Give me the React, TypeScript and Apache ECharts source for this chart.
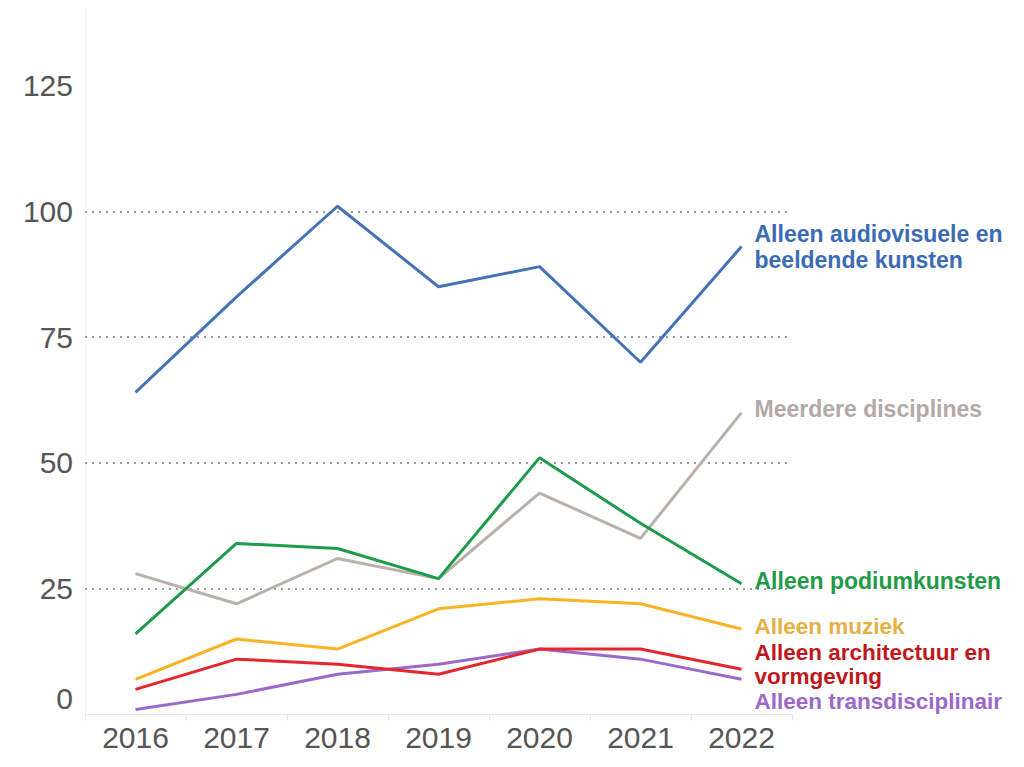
import React, { useEffect, useRef } from "react";
import * as echarts from "echarts";

const years = ["2016", "2017", "2018", "2019", "2020", "2021", "2022"];
const audiovisueel = [64, 83, 101, 85, 89, 70, 93];
const meerdere = [28, 22, 31, 27, 44, 35, 60];
const podium = [16, 34, 33, 27, 51, 38, 26];
const muziek = [7, 15, 13, 21, 23, 22, 17];
const architectuur = [5, 11, 10, 8, 13, 13, 9];
const trans = [1, 4, 8, 10, 13, 11, 7];
const gridValues = [25, 50, 75, 100];

const FONT = "'Liberation Sans', Arial, sans-serif";

function mkSeries(
  name: string,
  data: number[],
  lineColor: string,
  textColor: string,
  dy: number,
  z: number,
  lineHeight: number,
  fontSize = 23
) {
  return {
    name,
    type: "line",
    data,
    symbol: "none",
    z,
    lineStyle: { color: lineColor, width: 3 },
    itemStyle: { color: lineColor },
    emphasis: { disabled: true },
    endLabel: {
      show: true,
      formatter: name,
      color: textColor,
      fontSize,
      fontWeight: "bold",
      fontFamily: FONT,
      lineHeight,
      distance: 13,
      offset: [0, dy],
    },
  };
}

export default function App() {
  const ref = useRef<HTMLDivElement>(null);
  useEffect(() => {
    document.body.style.margin = "0";
    const chart = echarts.init(ref.current!, null, { renderer: "svg" });
    const first: any = mkSeries("Alleen transdisciplinair", trans, "#9b69c9", "#9a68c6", 22, 3, 22, 22.5);
    first.markLine = {
      silent: true,
      z: 1,
      symbol: ["none", "none"],
      label: { show: false },
      lineStyle: { type: [2, 5], color: "#9a9a9a", width: 2 },
      emphasis: { disabled: true },
      data: gridValues.map((v) => ({ yAxis: v })),
    };
    chart.setOption({
      animation: false,
      grid: { left: 85, right: 232, top: 10, bottom: 52.5 },
      xAxis: {
        type: "category",
        data: years,
        boundaryGap: true,
        axisLine: { lineStyle: { color: "#e8e8e8", width: 1 } },
        axisTick: { show: true, length: 6, lineStyle: { color: "#e8e8e8" } },
        axisLabel: { fontSize: 30, color: "#555555", fontFamily: FONT, margin: 8 },
      },
      yAxis: {
        type: "value",
        min: 0,
        max: 140,
        interval: 25,
        splitLine: { show: false },
        axisTick: { show: false },
        axisLine: { show: true, lineStyle: { color: "#f2f2f2", width: 1 } },
        axisLabel: {
          fontSize: 30,
          color: "#555555",
          fontFamily: FONT,
          margin: 12,
          formatter: (v: number) => (v === 0 ? "{z|0}" : v % 25 === 0 ? String(v) : ""),
          rich: {
            z: { fontSize: 30, color: "#555555", fontFamily: FONT, padding: [0, 0, 33, 0] },
          },
        },
      },
      series: [
        first,
        mkSeries("Alleen architectuur en\nvormgeving", architectuur, "#e5272b", "#c0171d", -5, 4, 24, 22.5),
        mkSeries("Alleen muziek", muziek, "#f8b425", "#e5b044", -2, 5, 22, 22.5),
        mkSeries("Meerdere disciplines", meerdere, "#bab0ac", "#b3a9a6", -4, 6, 25),
        mkSeries("Alleen podiumkunsten", podium, "#1e9b4a", "#1f9a48", -3, 7, 25),
        mkSeries("Alleen audiovisuele en\nbeeldende kunsten", audiovisueel, "#4673b6", "#3b6bb4", 0, 8, 26),
      ],
    });
    return () => chart.dispose();
  }, []);
  return <div ref={ref} style={{ width: 1024, height: 767 }} />;
}
